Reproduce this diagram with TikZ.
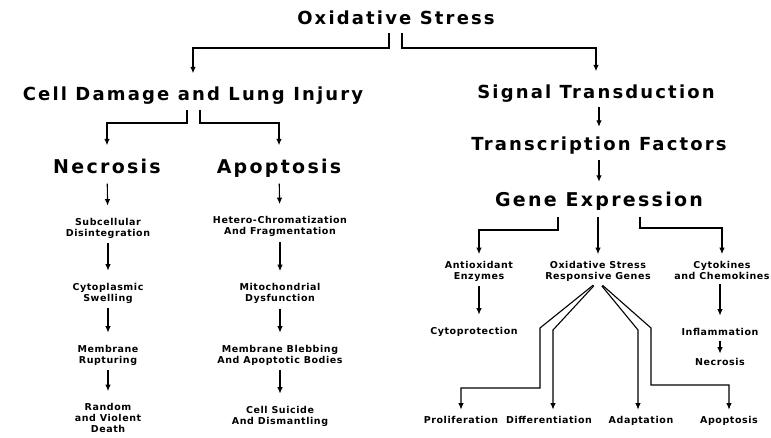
\documentclass[tikz,border=0pt]{standalone}
\usepackage{fontspec}
\setmainfont{DejaVu Sans}[LetterSpace=12]
\newfontfamily\smallfont{DejaVu Sans}[LetterSpace=6]
\usepackage{tikz}
\usetikzlibrary{arrows.meta, positioning, calc}
\tikzset{
    heading/.style={
        inner sep=0pt,
        text height=13.5pt,
        text depth=4.5pt,
        font=\fontsize{18}{20}\selectfont\bfseries
    },
    bigheading/.style={
        heading,
        font=\fontsize{19}{21}\selectfont\bfseries
    },
    smalltext/.style={
        inner sep=0pt,
        align=center,
        font=\smallfont\fontsize{9.5}{11}\selectfont\bfseries
    },
    connection/.style={
        draw=black,
        line width=1.1pt,
        -{Latex[length=6.5pt,width=5.5pt]},
        shorten <=5pt,
        shorten >=12pt
    }
}

\begin{document}
\begin{tikzpicture}[x=1pt, y=-1pt]
\path[use as bounding box, fill=white] (0,0) rectangle (771,438);

% Top level
\node[heading] (os) at (396,20.5) {Oxidative Stress};
\node[heading] (cd) at (193,96.5) {Cell Damage and Lung Injury};
\node[heading] (st) at (596,94.5) {Signal Transduction};

% Cell damage branch
\node[bigheading] (nec) at (107,169.5) {Necrosis};
\node[bigheading] (apo) at (279,169.5) {Apoptosis};
\node[smalltext] (sub) at (108,228) {Subcellular\\Disintegration};
\node[smalltext] (cyt) at (108,293) {Cytoplasmic\\Swelling};
\node[smalltext] (mem) at (108,355) {Membrane\\Rupturing};
\node[smalltext] (rnd) at (108,418) {Random\\and Violent\\Death};
\node[smalltext] (het) at (280,226.5) {Hetero-Chromatization\\And Fragmentation};
\node[smalltext] (mit) at (280,293.5) {Mitochondrial\\Dysfunction};
\node[smalltext] (bleb) at (280,355) {Membrane Blebbing\\And Apoptotic Bodies};
\node[smalltext] (sui) at (280,416) {Cell Suicide\\And Dismantling};

% Signalling branch
\node[heading] (tf) at (599,146.5) {Transcription Factors};
\node[bigheading] (ge) at (599,202.5) {Gene Expression};
\node[smalltext] (aox) at (479,271) {Antioxidant\\Enzymes};
\node[smalltext] (osr) at (598,271) {Oxidative Stress\\Responsive Genes};
\node[smalltext] (cyk) at (722,270) {Cytokines\\and Chemokines};
\node[smalltext] (cyp) at (474,331.5) {Cytoprotection};
\node[smalltext] (inf) at (720,331.5) {Inflammation};
\node[smalltext] (nc) at (720,361.5) {Necrosis};
\node[smalltext] (pro) at (461,419.5) {Proliferation};
\node[smalltext] (dif) at (549,419.5) {Differentiation};
\node[smalltext] (ada) at (641,420.5) {Adaptation};
\node[smalltext] (apt) at (729,420.5) {Apoptosis};

% Fork points
\coordinate (osfork) at (0,48);
\coordinate (cdfork) at (0,123);
\coordinate (gel) at (558,230);
\coordinate (ger) at (640,228);
\coordinate (fanll) at (540,328);
\coordinate (fanl) at (553,330);
\coordinate (fanr) at (638,330);
\coordinate (fanrr) at (651,328);
\coordinate (lowl) at (0,388);
\coordinate (lowr) at (0,385);

% Connections
\draw[connection, shorten <=3.5pt, shorten >=14pt] ([xshift=-7pt]os.south) |- (osfork -| cd.north) -- (cd.north);
\draw[connection, shorten <=3.5pt, shorten >=14pt] ([xshift=6pt]os.south) |- (osfork -| st.north) -- (st.north);
\draw[connection, shorten <=4.5pt, shorten >=15pt] ([xshift=-6pt]cd.south) |- (cdfork -| nec.north) -- (nec.north);
\draw[connection, shorten <=4.5pt, shorten >=15pt] ([xshift=7pt]cd.south) |- (cdfork -| apo.north) -- (apo.north);
\draw[connection] (nec) -- (sub);
\draw[connection] (sub) -- (cyt);
\draw[connection] (cyt) -- (mem);
\draw[connection] (mem) -- (rnd);
\draw[connection] (apo) -- (het);
\draw[connection] (het) -- (mit);
\draw[connection] (mit) -- (bleb);
\draw[connection] (bleb) -- (sui);
\draw[connection, shorten <=3.5pt, shorten >=10.5pt] (st.south -| tf.north) -- (tf.north);
\draw[connection, shorten <=4.5pt, shorten >=11.5pt] (tf) -- (ge);
\draw[connection, shorten <=5.5pt, shorten >=6.5pt] (ge.south -| gel) -- (gel) -| (aox.north);
\draw[connection, shorten <=5.5pt, shorten >=6.5pt] (ge.south -| osr.north) -- (osr.north);
\draw[connection, shorten <=5.5pt, shorten >=6.5pt] (ge.south -| ger) -- (ger) -| (cyk.north);
\draw[connection] (aox) -- (aox |- cyp.north);
\draw[connection] (cyk.south -| inf) -- (inf);
\draw[connection, shorten <=6pt, shorten >=4pt] (inf) -- (nc);
\draw[connection, shorten <=6pt, shorten >=6pt] (osr.south) -- (fanll) |- (lowl -| pro.north) -- (pro.north);
\draw[connection, shorten <=6pt, shorten >=6pt] (osr.south) -- (fanl) -- (fanl |- dif.north);
\draw[connection, shorten <=6pt, shorten >=6pt] (osr.south) -- (fanr) -- (fanr |- ada.north);
\draw[connection, shorten <=6pt, shorten >=6pt] (osr.south) -- (fanrr) |- (lowr -| apt.north) -- (apt.north);

\end{tikzpicture}
\end{document}
